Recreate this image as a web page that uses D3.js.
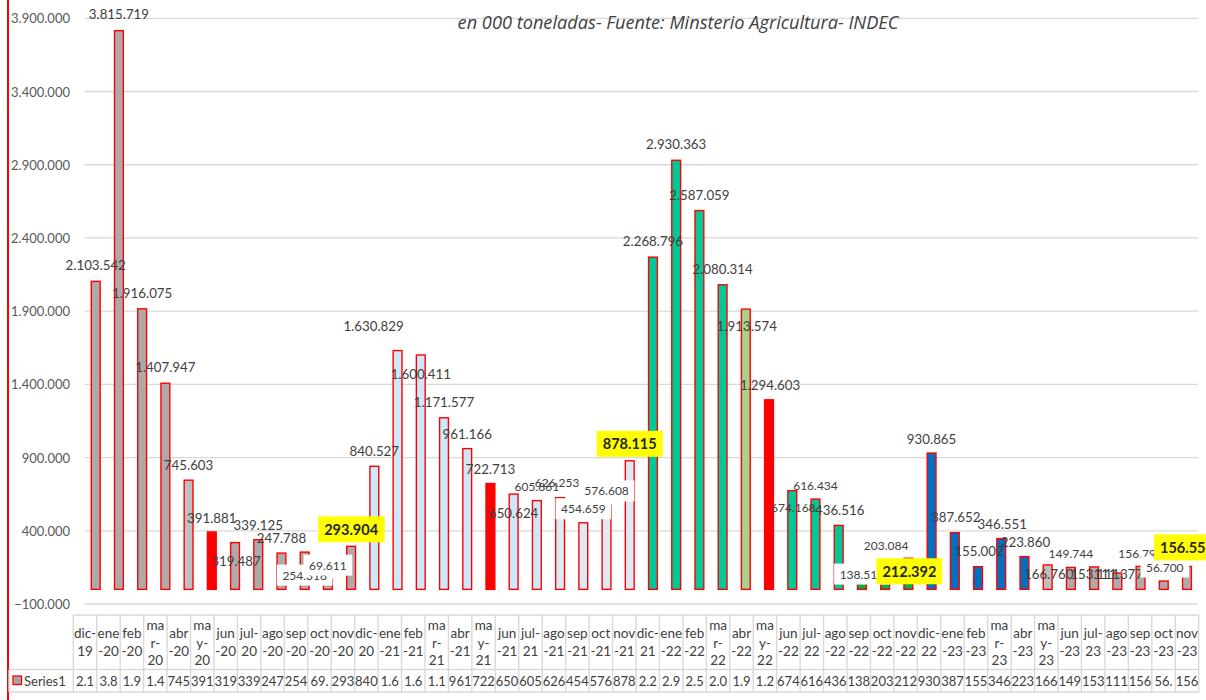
<!DOCTYPE html>
<html><head><meta charset="utf-8">
<script src="https://cdn.jsdelivr.net/npm/d3@7/dist/d3.min.js"></script>
<style>
body{margin:0;background:#fff;}
svg{display:block;font-family:Lato,"Noto Sans",sans-serif;}
</style>
</head><body>
<svg id="chart" width="1206" height="700"></svg>
<script>
// ---------- DATA ----------
const categories = ["dic-19","ene-20","feb-20","mar-20","abr-20","may-20","jun-20","jul-20","ago-20","sep-20","oct-20","nov-20",
  "dic-20","ene-21","feb-21","mar-21","abr-21","may-21","jun-21","jul-21","ago-21","sep-21","oct-21","nov-21",
  "dic-21","ene-22","feb-22","mar-22","abr-22","may-22","jun-22","jul-22","ago-22","sep-22","oct-22","nov-22",
  "dic-22","ene-23","feb-23","mar-23","abr-23","may-23","jun-23","jul-23","ago-23","sep-23","oct-23","nov-23"];
const values = [2103542,3815719,1916075,1407947,745603,391881,319487,339125,247788,254318,69611,293904,
  840527,1630829,1600411,1171577,961166,722713,650624,605861,626253,454659,576608,878115,
  2268796,2930363,2587059,2080314,1913574,1294603,674168,616434,436516,138513,203084,212392,
  930865,387652,155002,346551,223860,166760,149744,153111,111377,156796,56700,156558];
const yTickValues = [-100000,400000,900000,1400000,1900000,2400000,2900000,3400000,3900000];
const seriesName = "Series1";
const titleText = "en 000 toneladas- Fuente: Minsterio Agricultura- INDEC";

// ---------- STYLE / LAYOUT ----------
const C = {G:"#AEAAAA", LG:"#BFBFBF", R:"#FF0000", LB:"#CCE8F9", PB:"#DDEBF7", T:"#00C997", LGr:"#A9D18E", Gr:"#00B050", B:"#0070C0"};
const barFill = ["G","G","G","G","LG","R","G","G","G","G","G","G",
  "LB","LB","LB","LB","LB","R","LB","LB","PB","PB","PB","PB",
  "T","T","T","T","LGr","R","T","T","T","Gr","Gr","Gr",
  "B","B","B","B","B","LG","G","G","G","G","G","G"].map(k=>C[k]);
// n normal, s small, w small with white background, y bold on yellow
const labelKind = ["n","n","n","n","n","n","n","n","n","w","w","y",
  "n","n","n","n","n","n","n","s","s","w","w","y",
  "n","n","n","n","n","n","s","s","n","w","s","y",
  "n","n","n","n","n","n","s","n","n","s","w","y"];
const labelOffset = [[0,-16],[0,-17],[0,-16],[0,-16],[0,-15],[0,-14],[1,18],[0,-15],[0,-15],[0,23],[0,-14],[0,-17],
  [0,-15],[-24,-25],[0,19],[0,-16],[0,-15],[0,-15],[0,19],[0,-14],[-3,-15],[0,-14],[0,-14],[0,-17],
  [0,-16],[0,-16],[0,-16],[0,-16],[1,17],[1,-15],[1,17],[0,-14],[1,-15],[0,5],[1,-14],[1,13],
  [0,-14],[1,-16],[1,-16],[1,-15],[1,-15],[1,9],[0,-14],[1,7],[1,1],[0,-13],[1,-14],[0,-19]];

const svg = d3.select("#chart");
const fmt = d3.formatLocale({decimal:",",thousands:".",grouping:[3],currency:["",""]}).format(",d");

const x = d3.scaleBand().domain(categories).range([84.1,1198.6]).padding(0);
const y = d3.scaleLinear().domain([-100000,3900000]).range([604,18.3]);
const xt = d3.scaleBand().domain(categories).range([73.3,1198.7]).padding(0);

// left chart border
svg.append("line").attr("x1",8).attr("x2",8).attr("y1",0).attr("y2",700).attr("stroke","#FF0000").attr("stroke-width",2);

// gridlines
svg.append("g").selectAll("line").data(yTickValues).join("line")
  .attr("x1",84.5).attr("x2",1198).attr("y1",d=>y(d)).attr("y2",d=>y(d))
  .attr("stroke","#D9D9D9").attr("stroke-width",1.3);
// y tick labels
svg.append("g").selectAll("text").data(yTickValues).join("text")
  .attr("x",70).attr("y",d=>y(d)).attr("text-anchor","end").attr("dominant-baseline","central")
  .attr("font-size",13).attr("fill","#595959").text(d=>fmt(d));

// title
svg.append("text").attr("x",678).attr("y",22).attr("text-anchor","middle").attr("dominant-baseline","central")
  .attr("font-family","'Open Sans',Lato,sans-serif")
  .attr("font-size",18.2).attr("font-style","italic").attr("fill","#404040").text(titleText);

// bars
const bw = x.bandwidth()*0.38;
svg.append("g").selectAll("rect").data(values).join("rect")
  .attr("x",(d,i)=>x(categories[i])+x.bandwidth()/2-bw/2)
  .attr("y",d=>y(d)).attr("width",bw).attr("height",d=>y(0)-y(d))
  .attr("fill",(d,i)=>barFill[i]).attr("stroke","#FF0000").attr("stroke-width",1.4);

// labels
const lg = svg.append("g");
values.forEach((v,i)=>{
  const k = labelKind[i];
  const cx = x(categories[i])+x.bandwidth()/2+labelOffset[i][0];
  const cy = y(v)+labelOffset[i][1];
  const g = lg.append("g");
  const t = g.append("text").attr("x",cx).attr("y",cy).attr("text-anchor","middle").attr("dominant-baseline","central")
    .text(fmt(v));
  if(k==="y"){ t.attr("font-size",14.5).attr("font-weight","bold").attr("fill","#262626"); }
  else if(k==="n"){ t.attr("font-size",13.3).attr("fill","#404040"); }
  else { t.attr("font-size",12).attr("fill","#404040"); }
  if(k==="y"||k==="w"){
    const bb = t.node().getBBox();
    const px = k==="y"?6:5.5, h = k==="y"?26:21;
    g.insert("rect","text").attr("x",bb.x-px).attr("y",cy-h/2).attr("width",bb.width+2*px).attr("height",h)
      .attr("fill",k==="y"?"#FFFF00":"#FFFFFF");
  }
});

// data table
const tg = svg.append("g");
const line = (x1,y1,x2,y2)=>tg.append("line").attr("x1",x1).attr("y1",y1).attr("x2",x2).attr("y2",y2)
  .attr("stroke","#D9D9D9").attr("stroke-width",1.4);
const r0=615, r1=669.5, r2=692;
line(73.3,r0,1198.7,r0); line(9,r1,1198.7,r1); line(9,r2,1198.7,r2);
line(9,r1,9,r2);
categories.forEach((c,i)=>line(xt(c),r0,xt(c),r2));
line(1198.7,r0,1198.7,r2);

function wrapLabel(c){
  const m=c.slice(0,3), yy=c.slice(4);
  if(m==="dic"||m==="jul") return [m+"-",yy];
  if(m==="mar"||m==="may") return [m.slice(0,2),m[2]+"-",yy];
  return [m,"-"+yy];
}
categories.forEach((c,i)=>{
  const lines = wrapLabel(c);
  const cx = xt(c)+xt.bandwidth()/2;
  const ys = lines.length===2 ? [633,651] : [625,642.5,660];
  lines.forEach((s,j)=>tg.append("text").attr("x",cx).attr("y",ys[j]).attr("text-anchor","middle")
    .attr("dominant-baseline","central").attr("font-size",13.5).attr("fill","#404040").text(s));
  tg.append("text").attr("x",cx).attr("y",681).attr("text-anchor","middle").attr("dominant-baseline","central")
    .attr("font-size",13).attr("fill","#404040").text(fmt(values[i]).slice(0,3));
});
// legend key
tg.append("rect").attr("x",13).attr("y",676).attr("width",8.5).attr("height",8.5)
  .attr("fill","#A6A6A6").attr("stroke","#FF0000").attr("stroke-width",1.3);
tg.append("text").attr("x",24).attr("y",681).attr("dominant-baseline","central")
  .attr("font-size",13).attr("fill","#404040").text(seriesName);
</script>
</body></html>
